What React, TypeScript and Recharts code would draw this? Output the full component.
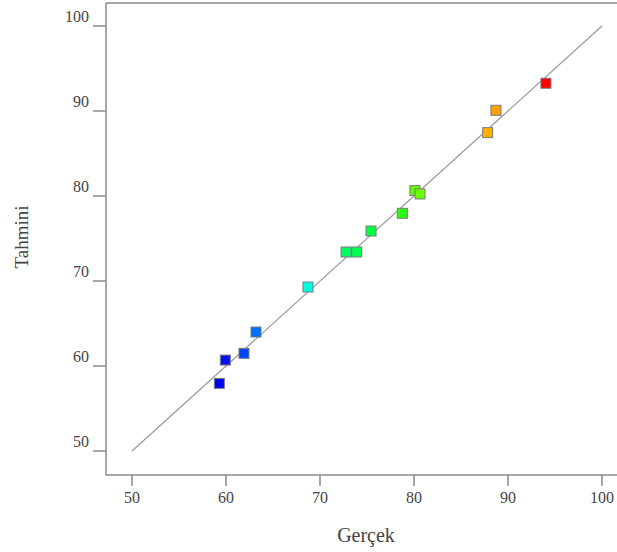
import React from 'react';
import { ScatterChart, Scatter, XAxis, YAxis, ReferenceLine } from 'recharts';

const actual = [59.29, 59.93, 61.91, 63.19, 68.72, 72.77, 73.9, 75.43, 78.76, 80.1, 80.64, 87.84, 88.72, 94.04];
const predicted = [57.96, 60.7, 61.49, 64.0, 69.29, 73.41, 73.41, 75.88, 77.96, 80.63, 80.24, 87.45, 90.08, 93.26];
const pointColors = ['#0000ff', '#0010ff', '#0045ff', '#0070ff', '#00ffe0', '#00ff60', '#00ff50', '#00ff40', '#28ff10', '#60ff00', '#6cff00', '#ffb000', '#ffa000', '#ff0000'];
const xTicks = [50, 60, 70, 80, 90, 100];
const yTicks = [50, 60, 70, 80, 90, 100];
const xLabel = 'Gerçek';
const yLabel = 'Tahmini';

const data = actual.map((a, i) => ({ x: a, y: predicted[i], color: pointColors[i] }));

const FONT = '"Liberation Serif", "DejaVu Serif", serif';
const TEXT = '#444';
const AXIS = '#8a8a8a';

const Square = (props: any) => {
  const { cx, cy, payload } = props;
  const s = 10;
  return <rect x={cx - s / 2} y={cy - s / 2} width={s} height={s} fill={payload.color} stroke="#7a7a7a" strokeWidth={1} />;
};

const XTick = (props: any) => {
  const { x, y, payload } = props;
  return (
    <text x={x} y={y + 11} textAnchor="middle" dominantBaseline="middle" style={{ fontFamily: FONT, fontSize: 16 }} fill={TEXT}>
      {payload.value}
    </text>
  );
};

const YTick = (props: any) => {
  const { x, y, payload } = props;
  return (
    <text x={x - 2} y={y - 8} textAnchor="end" dominantBaseline="middle" style={{ fontFamily: FONT, fontSize: 16 }} fill={TEXT}>
      {payload.value}
    </text>
  );
};

export default function App() {
  return (
    <div style={{ position: 'absolute', left: 0, top: 0, width: 617, height: 552, background: '#fff' }}>
      <ScatterChart width={617} height={552} margin={{ top: 3, right: 0, bottom: 47, left: 46 }}>
        <XAxis
          type="number"
          dataKey="x"
          domain={[47.23, 101.6]}
          ticks={xTicks}
          allowDataOverflow
          stroke={AXIS}
          strokeWidth={1.5}
          tickSize={11}
          tickMargin={2}
          height={30}
          tick={<XTick />}
        />
        <YAxis
          type="number"
          dataKey="y"
          domain={[47.18, 102.7]}
          ticks={yTicks}
          allowDataOverflow
          stroke={AXIS}
          strokeWidth={1.5}
          tickSize={13}
          tickMargin={2}
          width={60}
          tick={<YTick />}
        />
        <ReferenceLine y={102.7} stroke={AXIS} strokeWidth={1.5} ifOverflow="visible" />
        <ReferenceLine
          segment={[{ x: 50, y: 50 }, { x: 100, y: 100 }]}
          stroke="#9a9a9a"
          strokeWidth={1.2}
          ifOverflow="visible"
        />
        <Scatter data={data} shape={<Square />} isAnimationActive={false} />
      </ScatterChart>
      <div
        style={{
          position: 'absolute',
          left: 366,
          top: 535,
          transform: 'translate(-50%, -50%)',
          fontFamily: FONT,
          fontSize: 20,
          color: TEXT,
          whiteSpace: 'nowrap',
        }}
      >
        {xLabel}
      </div>
      <div
        style={{
          position: 'absolute',
          left: 22,
          top: 237,
          transform: 'translate(-50%, -50%) rotate(-90deg)',
          fontFamily: FONT,
          fontSize: 19,
          color: TEXT,
          whiteSpace: 'nowrap',
        }}
      >
        {yLabel}
      </div>
    </div>
  );
}
